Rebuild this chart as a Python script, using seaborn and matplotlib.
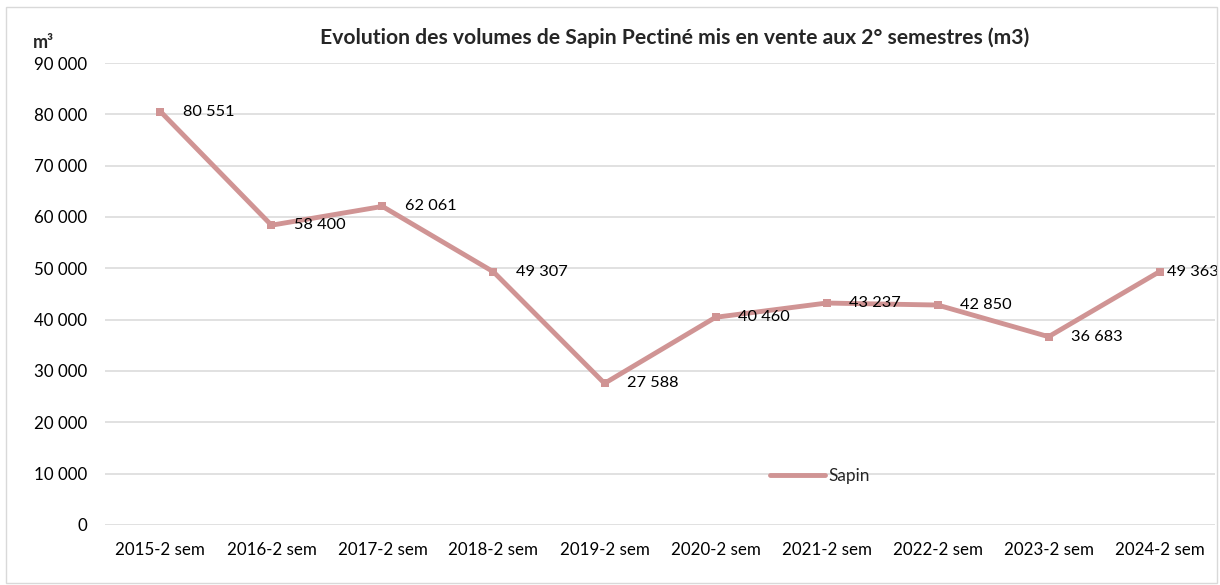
import matplotlib
matplotlib.use("Agg")
import matplotlib.pyplot as plt
import seaborn as sns
import pandas as pd
from matplotlib.patches import Rectangle
from matplotlib.ticker import FuncFormatter

categories = ["2015-2 sem", "2016-2 sem", "2017-2 sem", "2018-2 sem", "2019-2 sem",
              "2020-2 sem", "2021-2 sem", "2022-2 sem", "2023-2 sem", "2024-2 sem"]
sapin = [80551, 58400, 62061, 49307, 27588, 40460, 43237, 42850, 36683, 49363]
yticks = [0, 10000, 20000, 30000, 40000, 50000, 60000, 70000, 80000, 90000]

sns.set_theme(style="white")
plt.rcParams['font.family'] = ['Lato', 'DejaVu Sans']

color = "#D09494"
fig = plt.figure(figsize=(12.2, 5.85), dpi=100)
ax = fig.add_axes([0.086, 0.1026, 0.91, 0.7897])

df = pd.DataFrame({"cat": categories, "val": sapin, "serie": "Sapin"})
df["x"] = range(len(categories))
sns.lineplot(data=df, x="x", y="val", hue="serie", palette=[color], ax=ax,
             linewidth=3.5, marker="s", markersize=5.5, markeredgewidth=0, legend=True)

ax.set_xlim(-0.5, len(categories) - 0.5)
ax.set_ylim(0, 90000)
ax.set_yticks(yticks)
ax.yaxis.set_major_formatter(FuncFormatter(lambda v, p: f"{int(v):,}".replace(",", " ")))
ax.set_xticks(range(len(categories)))
ax.set_xticklabels(categories)
ax.tick_params(axis="both", length=0, labelsize=12.2, colors="#000000")
ax.tick_params(axis="y", pad=13)
ax.tick_params(axis="x", pad=12)
ax.grid(axis="y", color="#D9D9D9", linewidth=1.1)
ax.set_axisbelow(True)
for s in ax.spines.values():
    s.set_visible(False)
ax.set_xlabel("")
ax.set_ylabel("")

for i, v in enumerate(sapin):
    off = 16 if i < len(sapin) - 1 else 5
    ax.annotate(f"{v:,}".replace(",", " "), (i, v), xytext=(off, 0),
                textcoords="offset points", va="center", ha="left", fontsize=11.8,
                color="#000000")

leg = ax.legend(loc="center", bbox_to_anchor=(0.644, 0.106), frameon=False,
                fontsize=12.4, handlelength=3.2, handletextpad=0.15)
for h in leg.get_lines():
    h.set_linewidth(3.5)
    h.set_marker("")

fig.text(0.553, 0.935, "Evolution des volumes de Sapin Pectiné mis en vente aux 2° semestres (m3)",
         ha="center", va="center", fontsize=15.2, fontweight="bold")
fig.text(0.027, 0.927, "m³", ha="left", va="center", fontsize=13, fontweight="bold")

fig.patches.append(Rectangle((6 / 1220, 2 / 585), 1211 / 1220, 576 / 585, transform=fig.transFigure,
                             fill=False, edgecolor="#D9D9D9", linewidth=1))

fig.savefig("out.png", dpi=100)
